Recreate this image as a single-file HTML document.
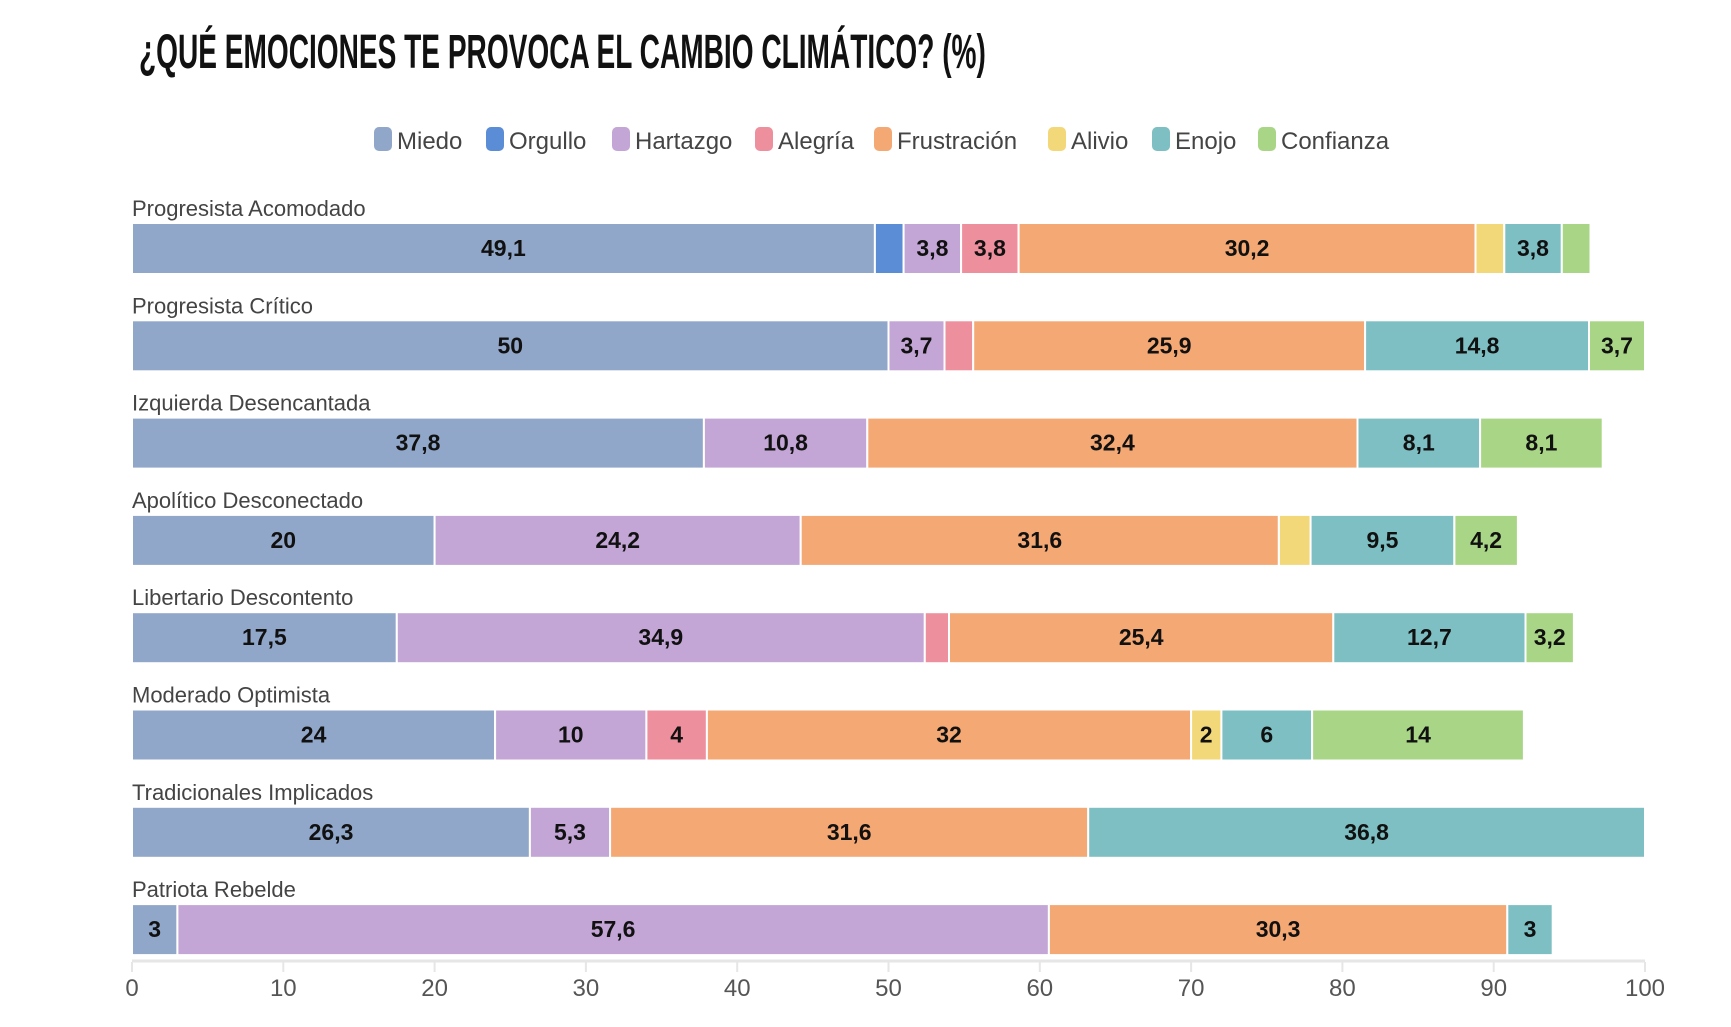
<!DOCTYPE html>
<html><head><meta charset="utf-8"><style>
html,body{margin:0;padding:0;background:#fff;}
svg{display:block;font-family:"Liberation Sans",sans-serif;}
</style></head><body>
<svg width="1731" height="1027" viewBox="0 0 1731 1027" xmlns="http://www.w3.org/2000/svg">
<text x="139" y="68" font-size="48" font-weight="bold" fill="#111" transform="translate(139 0) scale(0.585 1) translate(-139 0)">¿QUÉ EMOCIONES TE PROVOCA EL CAMBIO CLIMÁTICO? (%)</text>
<g font-size="24" fill="#444">
<rect x="374" y="127" width="18" height="24" rx="5" fill="#91a7c9"/><text x="397" y="149">Miedo</text>
<rect x="486" y="127" width="18" height="24" rx="5" fill="#5b8dd6"/><text x="509" y="149">Orgullo</text>
<rect x="612" y="127" width="18" height="24" rx="5" fill="#c3a6d6"/><text x="635" y="149">Hartazgo</text>
<rect x="755" y="127" width="18" height="24" rx="5" fill="#ee8f9e"/><text x="778" y="149">Alegría</text>
<rect x="874" y="127" width="18" height="24" rx="5" fill="#f4a874"/><text x="897" y="149">Frustración</text>
<rect x="1048" y="127" width="18" height="24" rx="5" fill="#f3d87a"/><text x="1071" y="149">Alivio</text>
<rect x="1152" y="127" width="18" height="24" rx="5" fill="#7ebfc3"/><text x="1175" y="149">Enojo</text>
<rect x="1258" y="127" width="18" height="24" rx="5" fill="#a9d686"/><text x="1281" y="149">Confianza</text>
</g>
<g id="bars"></g>
<line x1="132" y1="961" x2="1645" y2="961" stroke="#e6e6e6" stroke-width="3"/>
<g id="axis" font-size="24" fill="#555" text-anchor="middle"></g>
</svg>
<script>
var C={M:"#91a7c9",O:"#5b8dd6",H:"#c3a6d6",A:"#ee8f9e",F:"#f4a874",V:"#f3d87a",E:"#7ebfc3",K:"#a9d686"};
var rows=[
["Progresista Acomodado",[["M",49.1,"49,1"],["O",1.9],["H",3.8,"3,8"],["A",3.8,"3,8"],["F",30.2,"30,2"],["V",1.9],["E",3.8,"3,8"],["K",1.9]]],
["Progresista Crítico",[["M",50,"50"],["H",3.7,"3,7"],["A",1.9],["F",25.9,"25,9"],["E",14.8,"14,8"],["K",3.7,"3,7"]]],
["Izquierda Desencantada",[["M",37.8,"37,8"],["H",10.8,"10,8"],["F",32.4,"32,4"],["E",8.1,"8,1"],["K",8.1,"8,1"]]],
["Apolítico Desconectado",[["M",20,"20"],["H",24.2,"24,2"],["F",31.6,"31,6"],["V",2.1],["E",9.5,"9,5"],["K",4.2,"4,2"]]],
["Libertario Descontento",[["M",17.5,"17,5"],["H",34.9,"34,9"],["A",1.6],["F",25.4,"25,4"],["E",12.7,"12,7"],["K",3.2,"3,2"]]],
["Moderado Optimista",[["M",24,"24"],["H",10,"10"],["A",4,"4"],["F",32,"32"],["V",2,"2"],["E",6,"6"],["K",14,"14"]]],
["Tradicionales Implicados",[["M",26.3,"26,3"],["H",5.3,"5,3"],["F",31.6,"31,6"],["E",36.8,"36,8"]]],
["Patriota Rebelde",[["M",3,"3"],["H",57.6,"57,6"],["F",30.3,"30,3"],["E",3,"3"]]]];
var x0=132,s=15.13,h="";
rows.forEach(function(r,i){
 var top=223+i*97.3;
 h+='<text x="132" y="'+(top-7)+'" font-size="22" fill="#444">'+r[0]+'</text>';
 var acc=0;
 r[1].forEach(function(g){
  var x=x0+acc*s,w=g[1]*s;
  h+='<rect x="'+x.toFixed(1)+'" y="'+top.toFixed(1)+'" width="'+w.toFixed(1)+'" height="51" fill="'+C[g[0]]+'" stroke="#fff" stroke-width="2"/>';
  if(g[2])h+='<text x="'+(x+w/2).toFixed(1)+'" y="'+(top+33).toFixed(1)+'" font-size="23" font-weight="bold" fill="#111" text-anchor="middle">'+g[2]+'</text>';
  acc+=g[1];
 });
});
document.getElementById("bars").innerHTML=h;
var a="";
for(var v=0;v<=100;v+=10){var x=x0+v*s;a+='<line x1="'+x+'" y1="962" x2="'+x+'" y2="972" stroke="#e6e6e6" stroke-width="2"/><text x="'+x+'" y="996">'+v+'</text>';}
document.getElementById("axis").innerHTML=a;
</script>
</body></html>
